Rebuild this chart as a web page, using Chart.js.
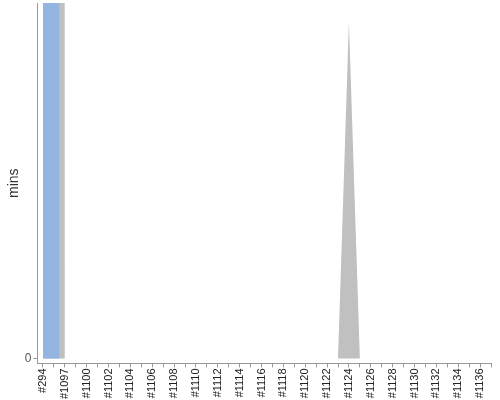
<!DOCTYPE html>
<html>
<head>
<meta charset="utf-8">
<script src="https://cdn.jsdelivr.net/npm/chart.js@4"></script>
<style>
html,body{margin:0;padding:0;background:#fff;}
#c{display:block;}
</style>
</head>
<body>
<canvas id="c" width="500" height="400"></canvas>
<script>
const categories = ['#294','#1096','#1097','#1099','#1100','#1101','#1102','#1103','#1104','#1105',
  '#1106','#1107','#1108','#1109','#1110','#1111','#1112','#1113','#1114','#1115',
  '#1116','#1117','#1118','#1119','#1120','#1121','#1122','#1123','#1124','#1125',
  '#1126','#1127','#1128','#1129','#1130','#1131','#1132','#1133','#1134','#1135',
  '#1136','#1137'];
// blue series (mins)
const seriesBlue = [2000,2000,0,0,0,0,0,0,0,0, 0,0,0,0,0,0,0,0,0,0, 0,0,0,0,0,0,0,0,0,0, 0,0,0,0,0,0,0,0,0,0, 0,0];
// gray series (mins)
const seriesGray = [2000,2000,0,0,0,0,0,0,0,0, 0,0,0,0,0,0,0,0,0,0, 0,0,0,0,0,0,0,0,9.47,0, 0,0,0,0,0,0,0,0,0,0, 0,0];
const yTickValues = [0];
const yMax = 10;
const yMin = -0.1412;

const toPts = arr => arr.map((v, i) => ({x: i, y: v}));
const FONT = 'Liberation Sans, Arial, sans-serif';

new Chart(document.getElementById('c'), {
  type: 'line',
  data: {
    datasets: [
      {data: toPts(seriesBlue), stepped: 'middle', fill: 'origin', backgroundColor: '#94b5e0', borderWidth: 0, pointRadius: 0},
      {data: toPts(seriesGray), fill: 'origin', backgroundColor: '#c0c0c0', borderWidth: 0, pointRadius: 0, tension: 0}
    ]
  },
  options: {
    responsive: false,
    devicePixelRatio: 1,
    animation: false,
    layout: {padding: {top: 3, right: 9, left: 6, bottom: 0}},
    plugins: {legend: {display: false}, tooltip: {enabled: false}},
    scales: {
      x: {
        type: 'linear', min: -0.5, max: 41,
        afterBuildTicks: s => { s.ticks = categories.map((c, i) => ({value: i})); },
        afterFit: s => { s.paddingLeft = 0; s.paddingRight = 0; },
        ticks: {
          autoSkip: false, maxRotation: 90, minRotation: 90, padding: 1,
          callback: v => (v % 2 ? '' : categories[v]),
          font: {family: FONT, size: 11}, color: '#222'
        },
        grid: {drawOnChartArea: false, drawTicks: true, tickLength: 4, color: '#999'},
        border: {color: '#999'}
      },
      y: {
        min: yMin, max: yMax,
        afterBuildTicks: s => { s.ticks = yTickValues.map(v => ({value: v})); },
        afterFit: s => { s.paddingTop = 0; s.paddingBottom = 0; },
        ticks: {font: {family: FONT, size: 12}, color: '#555', padding: 2},
        grid: {drawOnChartArea: false, drawTicks: true, tickLength: 4, color: '#999'},
        border: {color: '#999'},
        title: {display: true, text: 'mins', font: {family: FONT, size: 14}, color: '#333', padding: 0}
      }
    }
  }
});
</script>
</body>
</html>
